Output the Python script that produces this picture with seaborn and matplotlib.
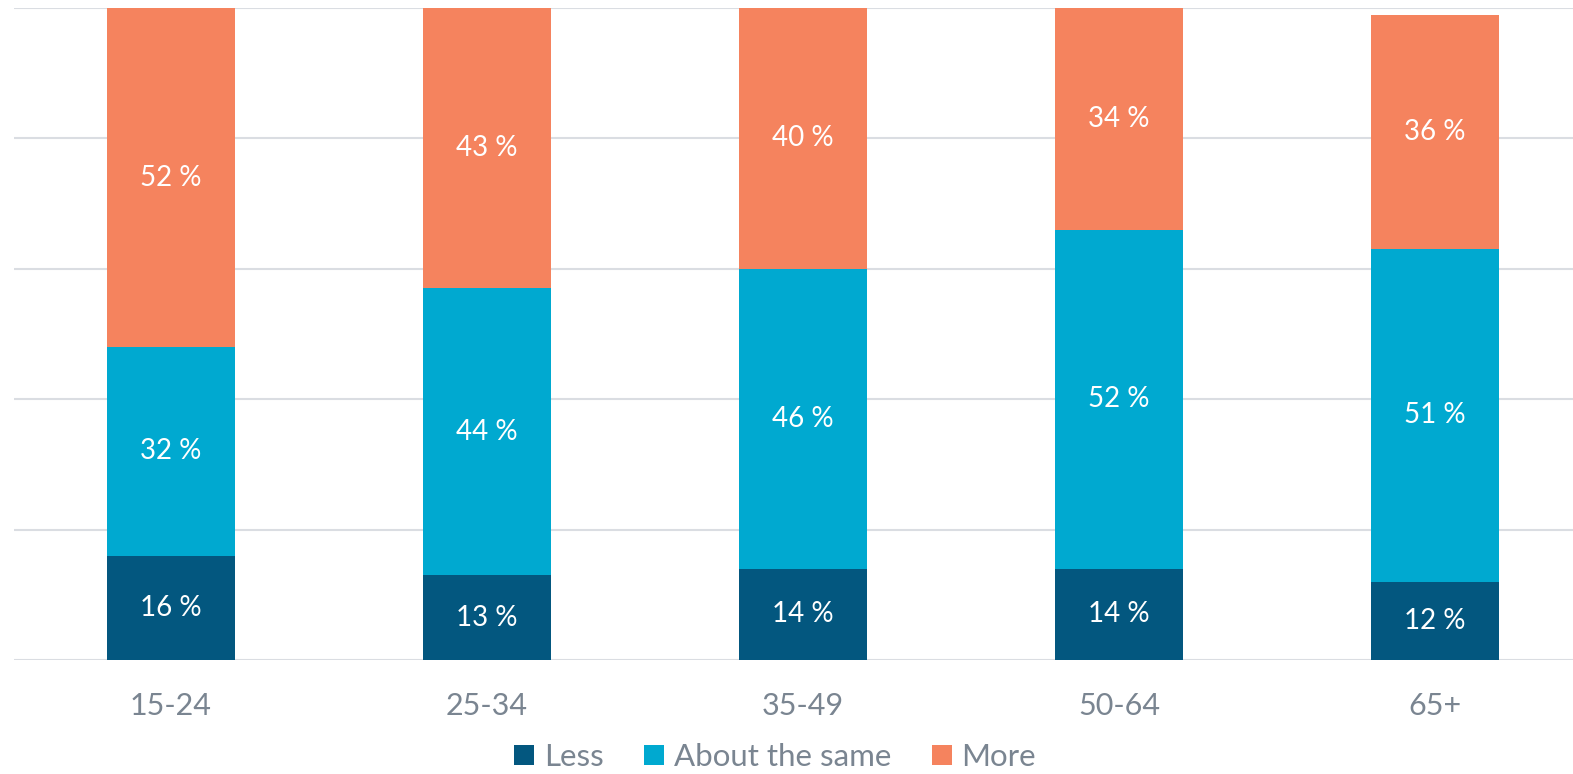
import matplotlib
matplotlib.use("Agg")
import matplotlib.pyplot as plt
from matplotlib.patches import Patch
import seaborn as sns
import pandas as pd
import numpy as np

categories = ["15-24", "25-34", "35-49", "50-64", "65+"]
less = [16, 13, 14, 14, 12]
same = [32, 44, 46, 52, 51]
more = [52, 43, 40, 34, 36]
series_names = ["Less", "About the same", "More"]
colors = ["#03577f", "#00a9d0", "#f5835e"]

sns.set_theme(style="white")
plt.rcParams["font.family"] = ["Lato", "DejaVu Sans"]

W, H = 1573, 774
fig = plt.figure(figsize=(W / 100, H / 100), dpi=100)
y0, ytop = 660, 8
ax = fig.add_axes([14 / W, (H - y0) / H, (W - 14) / W, (y0 - ytop) / H])

less_a = np.array(less)
same_a = np.array(same)
more_a = np.array(more)
c1 = less_a
c2 = less_a + same_a
c3 = less_a + same_a + more_a

df = pd.DataFrame({"cat": categories, "c1": c1, "c2": c2, "c3": c3})
spacing = 316
center0 = 171
bw = 128 / spacing
for col, color in zip(["c3", "c2", "c1"], colors[::-1]):
    sns.barplot(data=df, x="cat", y=col, color=color, width=bw, ax=ax,
                saturation=1, linewidth=0, zorder=3)

# labels
for i in range(len(categories)):
    bottoms = [0, c1[i], c2[i]]
    vals = [less[i], same[i], more[i]]
    for b, v in zip(bottoms, vals):
        ax.text(i, b + v / 2, f"{v} %", ha="center", va="center",
                color="white", fontsize=20, zorder=4)

ax.set_ylim(0, 100)
left_data = -(center0 - 14) / spacing
right_data = left_data + (W - 14) / spacing
ax.set_xlim(left_data, right_data)

ax.set_yticks([0, 20, 40, 60, 80, 100])
ax.yaxis.grid(True, color="#dadde2", linewidth=1.5, zorder=0)
ax.set_axisbelow(True)
ax.set_yticklabels([])
ax.tick_params(axis="y", length=0)
ax.tick_params(axis="x", length=0, labelsize=22, labelcolor="#7a8591", pad=23)
ax.set_xlabel("")
ax.set_ylabel("")
for s in ax.spines.values():
    s.set_visible(False)

handles = [Patch(facecolor=c, edgecolor="none") for c in colors]
fig.legend(handles, series_names, loc="center", bbox_to_anchor=(775 / W, (H - 757) / H),
           ncol=3, frameon=False, fontsize=22.5, labelcolor="#7a8591",
           handlelength=0.65, handleheight=0.65, handletextpad=0.3, columnspacing=1.3)

fig.savefig("out.png", dpi=100, facecolor="white")
